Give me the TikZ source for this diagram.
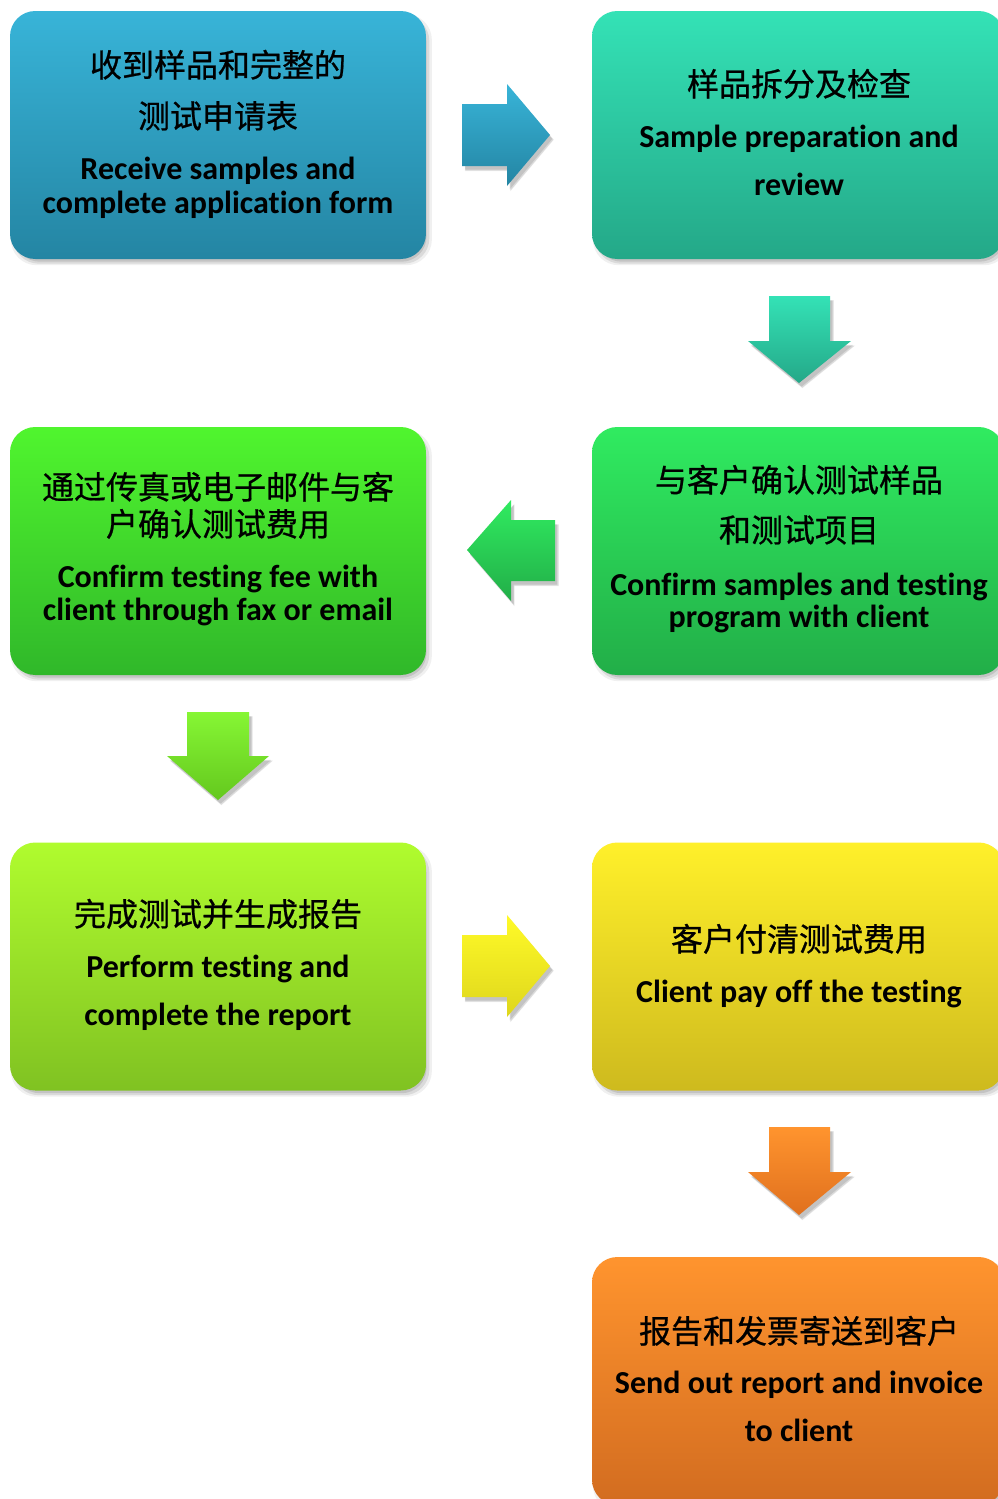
\documentclass[tikz,border=0pt]{standalone}
\usepackage{fontspec}
\setmainfont{Carlito}[Ligatures=NoCommon]
\newfontfamily\cjk{Noto Sans CJK SC}[FakeBold=0.7]
\usetikzlibrary{shadows}
\definecolor{c1t}{RGB}{56,180,216}\definecolor{c1b}{RGB}{36,133,163}
\definecolor{c2t}{RGB}{52,226,182}\definecolor{c2b}{RGB}{36,168,136}
\definecolor{c3t}{RGB}{80,245,46}\definecolor{c3b}{RGB}{48,184,42}
\definecolor{c4t}{RGB}{48,235,96}\definecolor{c4b}{RGB}{34,174,72}
\definecolor{c5t}{RGB}{176,252,46}\definecolor{c5b}{RGB}{128,194,34}
\definecolor{c6t}{RGB}{255,240,42}\definecolor{c6b}{RGB}{206,186,30}
\definecolor{c7t}{RGB}{255,148,46}\definecolor{c7b}{RGB}{210,108,32}
\begin{document}
\begin{tikzpicture}[x=0.75pt,y=-0.75pt,
  shd/.style={general shadow={shadow xshift=2.5pt,shadow yshift=-3.5pt,fill=black,opacity=0.06,shadow scale=1.012},
              general shadow={shadow xshift=2.5pt,shadow yshift=-3.5pt,fill=black,opacity=0.09},
              general shadow={shadow xshift=2pt,shadow yshift=-3pt,fill=black,opacity=0.10,shadow scale=0.99}},
  box/.style={shd,rounded corners=19pt,inner sep=0pt},
  lbox/.style={box,minimum width=312pt,minimum height=186pt},
  rbox/.style={box,minimum width=309pt,minimum height=186pt},
  zh/.style={anchor=base,inner sep=0pt,font=\cjk\fontsize{24pt}{28pt}\selectfont},
  en/.style={anchor=base,inner sep=0pt,font=\bfseries\fontsize{24pt}{28pt}\selectfont},
  blk/.style={shd}]
\useasboundingbox (0,0) rectangle (998,1499);
\fill[white] (0,0) rectangle (998,1499);

% boxes
\node[lbox,top color=c1t,bottom color=c1b] (b1) at (218,135) {};
\node[rbox,top color=c2t,bottom color=c2b] (b2) at (798,135) {};
\node[lbox,top color=c3t,bottom color=c3b] (b3) at (218,551) {};
\node[rbox,top color=c4t,bottom color=c4b] (b4) at (798,551) {};
\node[lbox,top color=c5t,bottom color=c5b] (b5) at (218,966.5) {};
\node[rbox,top color=c6t,bottom color=c6b] (b6) at (798,966.5) {};
\node[rbox,top color=c7t,bottom color=c7b] (b7) at (798,1381) {};

% arrows
\path[blk,top color=c1t,bottom color=c1b] (462,104) -- (507,104) -- (507,84) -- (550,135) -- (507,186) -- (507,166) -- (462,166) -- cycle;
\path[blk,top color=c2t,bottom color=c2b] (769,296) -- (830,296) -- (830,341) -- (851,341) -- (799,383) -- (748,341) -- (769,341) -- cycle;
\path[blk,top color=c4t,bottom color=c4b] (555,520) -- (511,520) -- (511,500) -- (467,550) -- (511,601) -- (511,581) -- (555,581) -- cycle;
\path[blk,top color={rgb,255:red,134;green,246;blue,52},bottom color={rgb,255:red,100;green,200;blue,30}] (187,712) -- (249,712) -- (249,756) -- (269,756) -- (218,800) -- (167,756) -- (187,756) -- cycle;
\path[blk,top color={rgb,255:red,255;green,250;blue,40},bottom color={rgb,255:red,222;green,214;blue,28}] (462,935) -- (507,935) -- (507,915) -- (550,966) -- (507,1017) -- (507,997) -- (462,997) -- cycle;
\path[blk,top color=c7t,bottom color={rgb,255:red,224;green,112;blue,30}] (769,1127) -- (830,1127) -- (830,1172) -- (851,1172) -- (799,1215) -- (748,1172) -- (769,1172) -- cycle;

% texts
\node[zh] (t1a) at (218,77) {收到样品和完整的};
\node[zh] (t1b) at (218,128) {测试申请表};
\node[en] (t1c) at (218,179) {Receive samples and};
\node[en] (t1d) at (218,213) {complete application form};

\node[zh] (t2a) at (799,96) {样品拆分及检查};
\node[en] (t2b) at (799,147) {Sample preparation and};
\node[en] (t2c) at (799,195) {review};

\node[zh] (t3a) at (218,499) {通过传真或电子邮件与客};
\node[zh] (t3b) at (218,536) {户确认测试费用};
\node[en] (t3c) at (218,587) {Confirm testing fee with};
\node[en] (t3d) at (218,620) {client through fax or email};

\node[zh] (t4a) at (799,492) {与客户确认测试样品};
\node[zh] (t4b) at (799,542) {和测试项目};
\node[en] (t4c) at (799,595) {Confirm samples and testing};
\node[en] (t4d) at (799,627) {program with client};

\node[zh] (t5a) at (218,926) {完成测试并生成报告};
\node[en] (t5b) at (218,977) {Perform testing and};
\node[en] (t5c) at (218,1025) {complete the report};

\node[zh] (t6a) at (799,951) {客户付清测试费用};
\node[en] (t6b) at (799,1002) {Client pay off the testing};

\node[zh] (t7a) at (799,1343) {报告和发票寄送到客户};
\node[en] (t7b) at (799,1393) {Send out report and invoice};
\node[en] (t7c) at (799,1441) {to client};
\end{tikzpicture}
\end{document}
